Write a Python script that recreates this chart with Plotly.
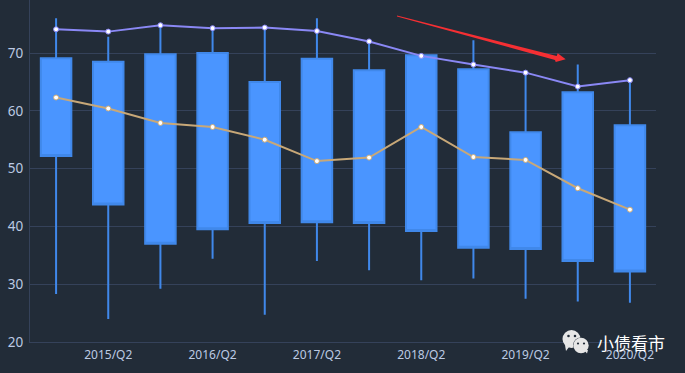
import plotly.graph_objects as go

periods = ["2014/Q4", "2015/Q2", "2015/Q4", "2016/Q2", "2016/Q4", "2017/Q2",
           "2017/Q4", "2018/Q2", "2018/Q4", "2019/Q2", "2019/Q4", "2020/Q2"]
tick_labels = ["2015/Q2", "2016/Q2", "2017/Q2", "2018/Q2", "2019/Q2", "2020/Q2"]
high = [76.0, 72.8, 74.8, 74.3, 74.3, 76.0, 72.0, 69.6, 72.2, 66.7, 68.0, 65.3]
q3 = [69.1, 68.5, 69.8, 70.0, 65.0, 69.0, 67.0, 69.6, 67.2, 56.3, 63.2, 57.5]
q1 = [52.2, 43.8, 37.0, 39.5, 40.6, 40.7, 40.6, 39.2, 36.3, 36.1, 34.0, 32.2]
low = [28.3, 24.0, 29.2, 34.4, 24.7, 34.0, 32.4, 30.7, 31.0, 27.5, 27.0, 26.8]
upper_line = [74.1, 73.7, 74.8, 74.3, 74.4, 73.8, 72.0, 69.5, 68.0, 66.6, 64.2, 65.3]
lower_line = [62.3, 60.4, 57.9, 57.2, 55.0, 51.3, 51.9, 57.2, 52.0, 51.5, 46.6, 42.9]

W, H = 685, 373
L, R, T, B = 30, 656, 0, 342
BG = "#222c38"
GRID = "#35425a"
TEXT = "#bccae3"


def px(x):
    return (x - L) / (R - L)


def py(y):
    return (B - y) / (B - T)


def poly(points):
    return "M " + " L ".join(f"{px(x):.5f},{py(y):.5f}" for x, y in points) + " Z"


def circle(cx, cy, r, color):
    return dict(type="circle", xref="paper", yref="paper", layer="above",
                x0=px(cx - r), x1=px(cx + r), y0=py(cy + r), y1=py(cy - r),
                fillcolor=color, line=dict(width=0))


def path(points, color):
    return dict(type="path", xref="paper", yref="paper", layer="above",
                path=poly(points), fillcolor=color, line=dict(width=0))


fig = go.Figure()
fig.add_trace(go.Box(
    x=periods, q1=q1, median=q1, q3=q3, lowerfence=low, upperfence=high,
    width=0.585, whiskerwidth=0, fillcolor="#4a95ff",
    line=dict(color="#4088ea", width=2), boxpoints=False, showlegend=False,
))
for values, color in ((upper_line, "#8a88f5"), (lower_line, "#c8a878")):
    fig.add_trace(go.Scatter(
        x=periods, y=values, mode="lines+markers", showlegend=False,
        line=dict(color=color, width=2),
        marker=dict(size=5, color="#ffffff", line=dict(color=color, width=1)),
    ))

shapes = [
    path([(397, 15.6), (397, 16.4), (555, 60), (555.7, 62), (565.7, 59.3),
          (557.7, 53.3), (556.7, 56)], "#f52f33"),
    circle(571.5, 339, 9, "#e6e6e6"),
    path([(565, 345), (569, 347), (566, 351)], "#e6e6e6"),
    circle(581, 345.5, 8, BG),
    circle(581, 345.5, 7.7, "#e6e6e6"),
    path([(584, 350), (588, 350), (587, 353.5)], "#e6e6e6"),
    circle(568.5, 336, 1.3, BG),
    circle(575, 336, 1.3, BG),
    circle(578, 343.5, 1.1, BG),
    circle(584, 343.5, 1.1, BG),
]

annotations = [dict(
    text="小债看市", xref="paper", yref="paper", x=px(595), y=py(342),
    xanchor="left", yanchor="middle", showarrow=False,
    font=dict(family="Noto Sans CJK SC", size=17, color="#ffffff"),
)]

fig.update_layout(
    width=W, height=H, paper_bgcolor=BG, plot_bgcolor=BG,
    margin=dict(l=L, r=W - R, t=T, b=H - B, pad=0),
    showlegend=False, shapes=shapes, annotations=annotations,
    font=dict(family="Noto Sans, sans-serif", color=TEXT),
    xaxis=dict(
        type="category", categoryorder="array", categoryarray=periods,
        range=[-0.5, 11.5], tickmode="array", tickvals=tick_labels,
        ticktext=tick_labels, showgrid=False, zeroline=False,
        showline=True, linecolor=GRID, linewidth=1, ticks="",
        ticklabelstandoff=2,
        tickfont=dict(size=12, color=TEXT),
    ),
    yaxis=dict(
        range=[20, 79.17], tickmode="array", tickvals=[20, 30, 40, 50, 60, 70],
        showgrid=True, gridcolor=GRID, gridwidth=1, zeroline=False,
        showline=True, linecolor=GRID, linewidth=1, ticks="",
        ticklabelstandoff=3,
        tickfont=dict(size=13.5, color=TEXT),
    ),
)

fig.write_html(
    "out.html",
    config=dict(displayModeBar=False),
    post_script="document.body.style.margin='0';document.body.style.overflow='hidden';"
                f"document.body.style.background='{BG}';",
)
